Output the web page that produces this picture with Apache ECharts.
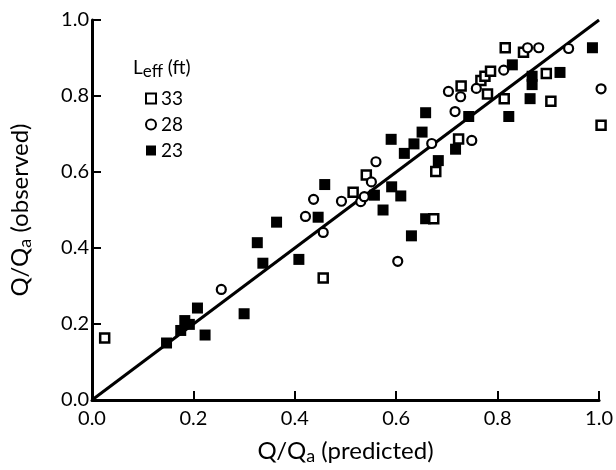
<!DOCTYPE html>
<html>
<head>
<meta charset="utf-8">
<script src="https://cdn.jsdelivr.net/npm/echarts@6/dist/echarts.min.js"></script>
<style>
html,body{margin:0;padding:0;background:#fff;}
#chart{width:616px;height:470px;}
</style>
</head>
<body>
<div id="chart"></div>
<script>
// Tick labels
const xTicks = [0.0, 0.2, 0.4, 0.6, 0.8, 1.0];
const yTicks = [0.0, 0.2, 0.4, 0.6, 0.8, 1.0];

// Legend labels (L_eff in ft)
const seriesNames = ['33', '28', '23'];

// L_eff = 33 ft (open squares): [predicted, observed]
const leff33 = [
  [0.025, 0.163], [0.456, 0.321], [0.515, 0.547], [0.541, 0.592],
  [0.674, 0.477], [0.678, 0.601], [0.723, 0.687], [0.728, 0.826],
  [0.767, 0.841], [0.775, 0.852], [0.780, 0.805], [0.786, 0.865],
  [0.813, 0.793], [0.815, 0.927], [0.851, 0.915], [0.896, 0.859],
  [0.905, 0.786], [1.004, 0.723]
];

// L_eff = 28 ft (open circles)
const leff28 = [
  [0.255, 0.291], [0.421, 0.483], [0.437, 0.528], [0.456, 0.441],
  [0.492, 0.523], [0.530, 0.522], [0.537, 0.535], [0.551, 0.574],
  [0.560, 0.627], [0.603, 0.365], [0.670, 0.675], [0.703, 0.812],
  [0.716, 0.759], [0.727, 0.798], [0.749, 0.683], [0.758, 0.820],
  [0.812, 0.868], [0.859, 0.927], [0.881, 0.927], [0.940, 0.925],
  [1.004, 0.819]
];

// L_eff = 23 ft (filled squares)
const leff23 = [
  [0.147, 0.150], [0.175, 0.183], [0.183, 0.209], [0.192, 0.199],
  [0.208, 0.242], [0.223, 0.171], [0.300, 0.227], [0.326, 0.414],
  [0.337, 0.360], [0.364, 0.468], [0.408, 0.370], [0.446, 0.481],
  [0.459, 0.567], [0.557, 0.539], [0.574, 0.500], [0.590, 0.686],
  [0.591, 0.561], [0.609, 0.537], [0.616, 0.649], [0.630, 0.432],
  [0.635, 0.674], [0.651, 0.705], [0.658, 0.756], [0.658, 0.477],
  [0.683, 0.630], [0.717, 0.660], [0.743, 0.746], [0.822, 0.746],
  [0.829, 0.882], [0.864, 0.793], [0.868, 0.830], [0.868, 0.852],
  [0.923, 0.862], [0.987, 0.927]
];

// 1:1 line
const oneToOne = [[0, 0], [1, 1]];

const FONT = 'Lato';
const chart = echarts.init(document.getElementById('chart'), null, {renderer: 'canvas'});

const axisCommon = {
  type: 'value', min: 0, max: 1, interval: 0.2,
  axisLine: {show: true, onZero: false, lineStyle: {color: '#000', width: 3}},
  axisTick: {show: true, inside: true, length: 9, lineStyle: {color: '#000', width: 2}},
  splitLine: {show: false},
  axisLabel: {color: '#000', fontFamily: FONT, fontSize: 20}
};

function tickFmt(list) {
  return v => { const t = list.find(t => Math.abs(t - v) < 1e-9); return (t !== undefined ? t : v).toFixed(1); };
}

chart.setOption({
  animation: false,
  backgroundColor: '#fff',
  grid: {left: 82, right: 16, top: 20, bottom: 63, containLabel: false},
  xAxis: Object.assign({}, axisCommon, {
    axisLabel: Object.assign({}, axisCommon.axisLabel, {margin: 9, formatter: tickFmt(xTicks)}),
    name: 'Q/Q{sub|a} (predicted)',
    nameLocation: 'middle', nameGap: 37,
    nameTextStyle: {color: '#000', fontFamily: FONT, fontSize: 24,
      rich: {sub: {color: '#000', fontFamily: FONT, fontSize: 18, verticalAlign: 'bottom', padding: [10, 0, 0, 0]}}}
  }),
  yAxis: Object.assign({}, axisCommon, {
    axisLabel: Object.assign({}, axisCommon.axisLabel, {margin: 3, formatter: tickFmt(yTicks)}),
    name: 'Q/Q{sub|a} (observed)',
    nameLocation: 'middle', nameGap: 58, nameRotate: 90,
    nameTextStyle: {color: '#000', fontFamily: FONT, fontSize: 24,
      rich: {sub: {color: '#000', fontFamily: FONT, fontSize: 18, verticalAlign: 'bottom', padding: [10, 0, 0, 0]}}}
  }),
  legend: {
    orient: 'vertical', left: 145, top: 89, itemGap: 7, padding: 0,
    itemWidth: 10, itemHeight: 10,
    data: seriesNames,
    textStyle: {color: '#000', fontFamily: FONT, fontSize: 19, padding: [0, 0, 0, 0]}
  },
  graphic: [{
    type: 'text', left: 133, top: 58,
    style: {
      text: 'L{sub|eff} (ft)',
      fill: '#000', font: '19px ' + FONT,
      rich: {sub: {fill: '#000', fontFamily: FONT, fontSize: 17, padding: [9, 0, 0, 0]}}
    }
  }],
  series: [
    {
      name: 'fit', type: 'line', data: oneToOne, symbol: 'none', silent: true,
      lineStyle: {color: '#000', width: 3}, z: 1
    },
    {
      name: seriesNames[0], type: 'scatter', data: leff33, symbol: 'rect', symbolSize: 9,
      clip: false,
      itemStyle: {color: '#fff', borderColor: '#000', borderWidth: 2.5, opacity: 1}, z: 3
    },
    {
      name: seriesNames[1], type: 'scatter', data: leff28, symbol: 'circle', symbolSize: 9,
      clip: false,
      itemStyle: {color: '#fff', borderColor: '#000', borderWidth: 2.2, opacity: 1}, z: 3
    },
    {
      name: seriesNames[2], type: 'scatter', data: leff23, symbol: 'rect', symbolSize: 11,
      clip: false,
      itemStyle: {color: '#000', opacity: 1}, z: 2
    }
  ]
});
</script>
</body>
</html>
